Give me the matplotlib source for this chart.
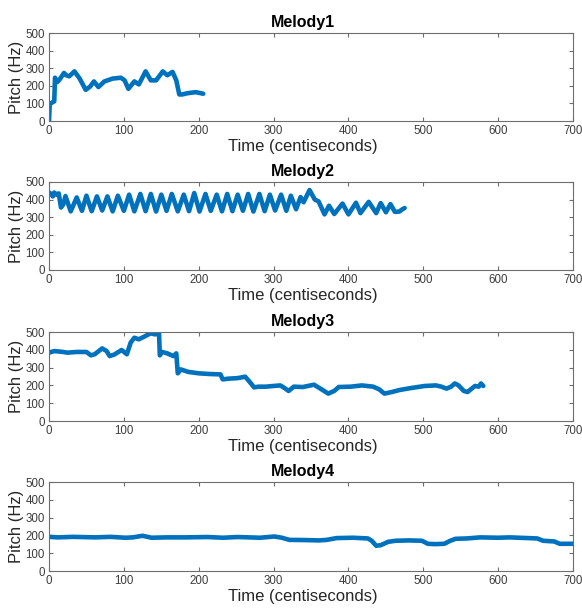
import matplotlib
matplotlib.use("Agg")
import matplotlib.pyplot as plt

# ---------------------------------------------------------------------------
# Pitch tracks (time in centiseconds, pitch in Hz)
# ---------------------------------------------------------------------------

melody1_t = [0, 1, 5, 7, 8, 11, 14, 20, 23, 27, 34, 41, 49, 55, 60, 66, 74, 85,
             96, 101, 106, 114, 120, 129, 136, 143, 152, 158, 165, 170, 174,
             178, 185, 196, 206]
melody1_hz = [0, 97, 107, 112, 246, 221, 235, 273, 260, 254, 282, 241, 177, 196,
              225, 193, 225, 241, 246, 231, 183, 225, 208, 282, 231, 231, 282,
              260, 279, 231, 151, 151, 158, 164, 155]

melody2_t = [0, 3, 5, 7, 10, 13, 16, 19, 22, 29, 37, 44, 50, 57, 64, 71, 78, 85,
             92, 100, 107, 114, 122, 129, 136, 143, 150, 157, 164, 172, 180,
             187, 194, 201, 209, 216, 224, 231, 238, 245, 252, 259, 266, 273,
             281, 288, 295, 302, 310, 317, 323, 330, 336, 340, 348, 355, 360,
             368, 374, 381, 392, 400, 410, 416, 427, 437, 443, 450, 456, 462,
             468, 472, 475]
melody2_hz = [440, 432, 418, 440, 428, 435, 355, 372, 420, 333, 412, 336, 422,
              334, 418, 338, 418, 333, 422, 336, 428, 333, 432, 334, 432, 332,
              428, 336, 432, 333, 428, 334, 437, 332, 432, 336, 428, 333, 432,
              334, 428, 336, 432, 332, 432, 334, 428, 338, 428, 336, 422, 345,
              414, 385, 454, 400, 390, 316, 365, 318, 377, 316, 382, 323, 387,
              323, 380, 328, 374, 330, 332, 345, 352]

melody3_t = [0, 7, 17, 25, 37, 50, 56, 61, 71, 77, 81, 87, 97, 104, 109, 114,
             120, 129, 136, 141, 147, 148, 151, 158, 166, 170, 172, 176, 186,
             200, 215, 229, 232, 240, 252, 262, 267, 274, 280, 290, 300, 309,
             314, 320, 327, 339, 354, 364, 373, 381, 387, 403, 418, 433, 441,
             448, 458, 468, 483, 502, 517, 524, 531, 537, 542, 547, 554, 559,
             569, 574, 577, 580]
melody3_hz = [384, 393, 389, 384, 388, 388, 369, 375, 408, 393, 365, 373, 399,
              375, 440, 468, 459, 478, 493, 487, 490, 369, 388, 380, 365, 380,
              268, 290, 276, 268, 264, 262, 234, 238, 241, 249, 225, 189, 193,
              193, 197, 200, 187, 169, 193, 191, 204, 178, 154, 169, 191, 193,
              200, 193, 178, 154, 163, 174, 185, 197, 200, 193, 182, 193, 211,
              200, 169, 163, 197, 193, 211, 197]

melody4_t = [0, 12, 32, 62, 82, 102, 112, 125, 137, 157, 182, 212, 232, 252,
             282, 301, 311, 321, 341, 361, 371, 384, 406, 426, 431, 437, 443,
             453, 463, 481, 498, 506, 516, 528, 536, 543, 558, 576, 600, 615,
             640, 652, 660, 675, 682, 700]
melody4_hz = [192, 189, 192, 189, 192, 187, 189, 198, 187, 189, 189, 191, 187,
              191, 187, 194, 187, 175, 174, 172, 175, 185, 187, 183, 170, 142,
              145, 164, 170, 172, 170, 153, 151, 153, 170, 181, 183, 189, 187,
              189, 185, 183, 170, 166, 153, 153]

titles = ["Melody1", "Melody2", "Melody3", "Melody4"]
tracks = [(melody1_t, melody1_hz), (melody2_t, melody2_hz),
          (melody3_t, melody3_hz), (melody4_t, melody4_hz)]

# ---------------------------------------------------------------------------
# Plotting (MATLAB-ish look)
# ---------------------------------------------------------------------------

plt.rcParams["font.family"] = ["Liberation Sans", "DejaVu Sans"]

line_color = "#0072BD"
axis_color = "#6e6e6e"
text_color = "#262626"
tick_text = "#3c3c3c"

fig = plt.figure(figsize=(5.82, 6.10), dpi=100)

# axes boxes in figure fractions: (left, bottom, width, height)
boxes = [
    (0.0842, 0.8016, 0.9005, 0.1443),
    (0.0842, 0.5574, 0.9005, 0.1443),
    (0.0842, 0.3098, 0.9005, 0.1459),
    (0.0842, 0.0639, 0.9005, 0.1459),
]

for box, title, (t, hz) in zip(boxes, titles, tracks):
    ax = fig.add_axes(box)
    ax.plot(t, hz, color=line_color, linewidth=3.3, solid_capstyle="round",
            solid_joinstyle="round")
    ax.set_xlim(0, 700)
    ax.set_ylim(0, 500)
    ax.set_xticks(range(0, 701, 100))
    ax.set_yticks(range(0, 501, 100))
    ax.tick_params(direction="in", length=3, width=0.8, colors=axis_color,
                   labelcolor=tick_text, labelsize=8.3, top=True, right=True,
                   pad=3)
    for spine in ax.spines.values():
        spine.set_color(axis_color)
        spine.set_linewidth(0.8)
    ax.set_title(title, fontsize=11.5, fontweight="bold", color="black",
                 x=0.485, pad=4)
    ax.set_xlabel("Time (centiseconds)", fontsize=12, color=text_color,
                  labelpad=2)
    ax.xaxis.set_label_coords(0.485, -0.20)
    ax.set_ylabel("Pitch (Hz)", fontsize=12, color=text_color, labelpad=1)

fig.savefig("out.png", dpi=100, facecolor="white")
